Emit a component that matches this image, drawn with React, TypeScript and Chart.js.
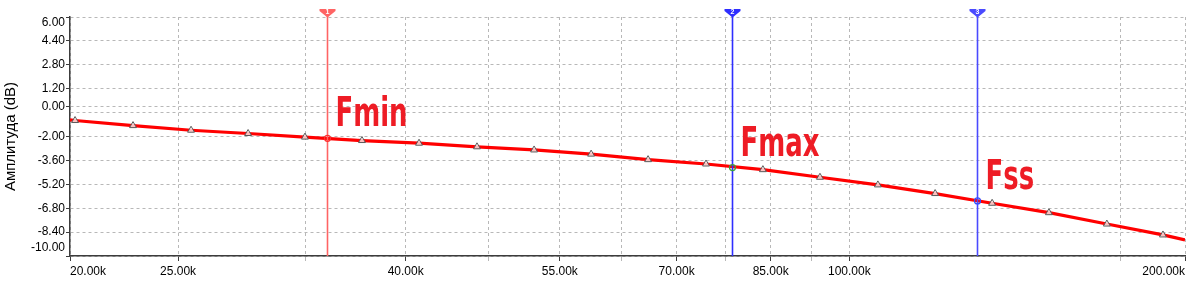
import { useEffect, useRef } from 'react';
import { Chart, registerables } from 'chart.js';

Chart.register(...registerables);

// ---- data ----
const freqs = [20000, 20210, 22780, 25680, 28890, 32490, 36550, 41120, 46350, 52150, 58670, 65990, 74380, 83650, 94110, 106070, 119380, 134290, 151000, 170200, 191100, 200000];
const amps = [-0.88, -0.93, -1.27, -1.58, -1.80, -2.04, -2.27, -2.45, -2.69, -2.90, -3.18, -3.55, -3.84, -4.22, -4.73, -5.24, -5.82, -6.47, -7.10, -7.86, -8.59, -8.93];
const markerShown = [false, true, true, true, true, true, true, true, true, true, true, true, true, true, true, true, true, true, true, true, true, false];

const cursorFreqs = [34000, 78400, 130200];
const cursorAmps = [-2.12, -4.08, -6.31];
const cursorNames = ['Fmin', 'Fmax', 'Fss'];
const cursorIds = ['1', '2', '3'];

const yTicks = [-10, -8.4, -6.8, -5.2, -3.6, -2.0, -0.4, 0, 1.2, 2.8, 4.4, 6.0];
const yHiddenTicks = [-0.4];
const xTicks = [20000, 25000, 32500, 40000, 47500, 55000, 62500, 70000, 77500, 85000, 92500, 100000, 175000, 200000];
const xLabeledTicks = [20000, 25000, 40000, 55000, 70000, 85000, 100000, 200000];

const yTitle = 'Амплитуда (dB)';

// ---- styles ----
const cursorColors = ['#ff6464', '#2e2eff', '#4a4aff'];
const circleColors = ['#ff3030', '#3aa040', '#3050ff'];
const gridColor = '#b8b8b8';
const axisColor = '#3c3c3c';
const labelColor = '#ee1c25';

const cursorPlugin = {
  id: 'cursors',
  afterDatasetsDraw(chart: any) {
    const { ctx, chartArea } = chart;
    const xs = chart.scales.x;
    const ys = chart.scales.y;
    cursorFreqs.forEach((f, i) => {
      const px = Math.round(xs.getPixelForValue(f)) + 0.5;
      const py = ys.getPixelForValue(cursorAmps[i]);
      ctx.save();
      ctx.strokeStyle = cursorColors[i];
      ctx.lineWidth = 1.6;
      ctx.beginPath();
      ctx.moveTo(px, chartArea.top - 6);
      ctx.lineTo(px, chartArea.bottom);
      ctx.stroke();
      // top marker
      const t = chartArea.top;
      ctx.fillStyle = cursorColors[i];
      ctx.beginPath();
      ctx.moveTo(px - 8, t - 8);
      ctx.lineTo(px + 8, t - 8);
      ctx.lineTo(px + 8, t - 6);
      ctx.lineTo(px, t + 0.5);
      ctx.lineTo(px - 8, t - 6);
      ctx.closePath();
      ctx.fill();
      ctx.fillStyle = '#ffffff';
      ctx.font = 'bold 7px "Liberation Sans"';
      ctx.textAlign = 'center';
      ctx.textBaseline = 'middle';
      ctx.fillText(cursorIds[i], px, t - 5);
      // intersection circle
      ctx.strokeStyle = circleColors[i];
      ctx.lineWidth = 1.2;
      ctx.beginPath();
      ctx.arc(px, py, 3, 0, Math.PI * 2);
      ctx.stroke();
      // label
      ctx.fillStyle = labelColor;
      ctx.font = 'bold 40px "Liberation Sans Narrow", "DejaVu Sans Condensed", sans-serif';
      ctx.textAlign = 'left';
      ctx.textBaseline = 'alphabetic';
      ctx.translate(px + 8, py - 12);
      ctx.scale(0.72, 1);
      ctx.fillText(cursorNames[i], 0, 0);
      ctx.restore();
    });
  },
};

const yLabelShiftPlugin = {
  id: 'yLabelShift',
  beforeDraw(chart: any) {
    const ys = chart.scales.y;
    const items = ys.getLabelItems(chart.chartArea);
    items.forEach((it: any) => {
      if (it.label === '6.00') it.options.translation[1] += 6;
      if (it.label === '-10.00') it.options.translation[1] -= 8;
    });
  },
};

export default function App() {
  const ref = useRef<HTMLCanvasElement>(null);
  useEffect(() => {
    Chart.defaults.font.family = '"Liberation Sans", Arial, sans-serif';
    Chart.defaults.font.size = 12;
    Chart.defaults.color = '#000000';
    const chart = new Chart(ref.current as HTMLCanvasElement, {
      type: 'line',
      data: {
        datasets: [
          {
            data: freqs.map((f, i) => ({ x: f, y: amps[i] })),
            borderColor: '#ff0000',
            borderWidth: 3.2,
            tension: 0,
            pointStyle: 'triangle',
            pointRadius: (c: any) => (markerShown[c.dataIndex] ? 4 : 0),
            pointBorderColor: '#5a5a5a',
            pointBackgroundColor: 'rgba(255,255,255,0.75)',
            pointBorderWidth: 1,
          },
        ],
      },
      options: {
        animation: false,
        responsive: true,
        maintainAspectRatio: false,
        layout: { padding: { left: 0, top: 17, right: 15, bottom: 0 } },
        plugins: { legend: { display: false }, tooltip: { enabled: false } },
        scales: {
          x: {
            type: 'logarithmic',
            min: 20000,
            max: 200000,
            afterBuildTicks: (s: any) => {
              s.ticks = xTicks.map((v) => ({ value: v }));
            },
            afterFit: (s: any) => {
              s.height = 31;
            },
            ticks: {
              autoSkip: false,
              maxRotation: 0,
              align: 'inner',
              padding: 3,
              font: { size: 12 },
              color: '#000',
              callback: (v: any) => (xLabeledTicks.includes(Number(v)) ? (Number(v) / 1000).toFixed(2) + 'k' : ''),
            },
            grid: {
              color: gridColor,
              lineWidth: 1,
              tickLength: 5,
              tickColor: (c: any) => (c.tick && xLabeledTicks.includes(c.tick.value) ? axisColor : gridColor),
              tickBorderDash: [],
            },
            border: { color: axisColor, width: 1.5, dash: [3, 3] },
          },
          y: {
            type: 'linear',
            min: -10,
            max: 6,
            afterBuildTicks: (s: any) => {
              s.ticks = yTicks.map((v) => ({ value: v }));
            },
            afterFit: (s: any) => {
              s.width = 70;
            },
            ticks: {
              autoSkip: false,
              padding: 1,
              font: { size: 12 },
              color: '#000',
              callback: (v: any) => (yHiddenTicks.includes(Number(v)) ? '' : Number(v).toFixed(2)),
            },
            title: { display: true, text: yTitle, font: { size: 15 }, color: '#000', padding: { top: 2, bottom: 4 } },
            grid: {
              color: gridColor,
              lineWidth: 1,
              tickLength: 4,
              tickColor: (c: any) => (c.tick && yHiddenTicks.includes(c.tick.value) ? 'rgba(0,0,0,0)' : axisColor),
              tickBorderDash: [],
            },
            border: { color: axisColor, width: 1.5, dash: [3, 3] },
          },
        },
      },
      plugins: [cursorPlugin, yLabelShiftPlugin],
    } as any);
    return () => chart.destroy();
  }, []);
  return (
    <div style={{ position: 'fixed', left: 0, top: 0, width: 1200, height: 287, background: '#ffffff' }}>
      <canvas ref={ref} />
    </div>
  );
}
